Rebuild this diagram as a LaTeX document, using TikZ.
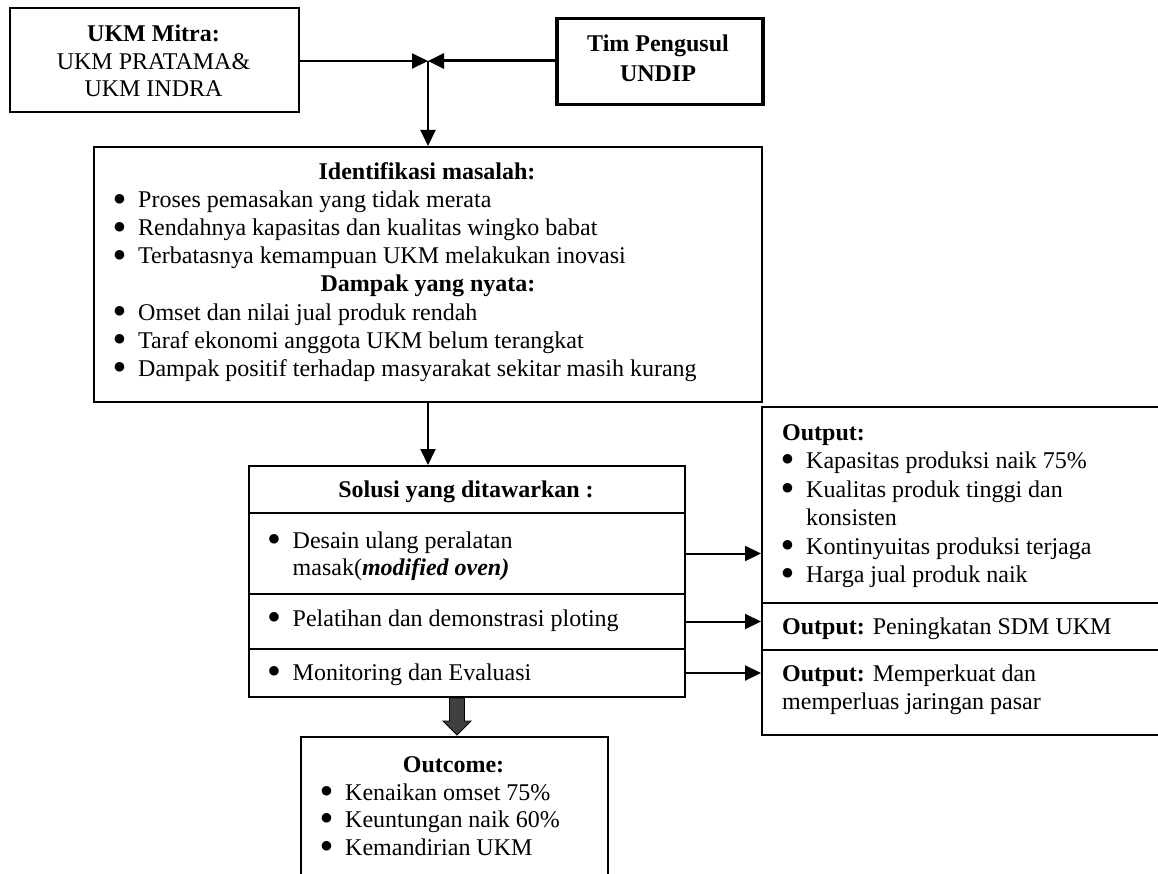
\documentclass[tikz,border=0pt]{standalone}
\usepackage{fontspec}
\setmainfont{Liberation Serif}
\newfontfamily\symfont{DejaVu Sans}
\usetikzlibrary{arrows.meta,calc}
\newcommand\fsz{\fontsize{24}{28}\selectfont}
\newcommand\bul{\llap{\raisebox{5.5pt}{\symfont\fontsize{12.5}{12.5}\selectfont ●}\hspace{13.2pt}}}
\tikzset{
  box/.style={draw, line width=2pt, rectangle, anchor=north west, inner sep=0pt},
  tl/.style={anchor=base west, inner sep=0pt, font=\fsz},
  tc/.style={anchor=base, inner sep=0pt, font=\fsz},
  arr/.style={line width=2pt, -{Triangle[length=16pt,width=15pt]}},
  blockarrow/.style={fill=black!75, draw=black, line width=0.8pt},
}
\begin{document}
\begin{tikzpicture}[x=1pt,y=-1pt]
\useasboundingbox (0,0) rectangle (1158,874);
\clip (0,0) rectangle (1158,874);

% top boxes
\node[box, minimum width=289pt, minimum height=104pt] (mitra) at (9,7) {};
\node[tc] (m1) at (153.5,42) {\bfseries UKM Mitra:};
\node[tc] (m2) at (153.5,70) {UKM PRATAMA\&};
\node[tc] (m3) at (153.5,97) {UKM INDRA};

\node[box, line width=3.5pt, minimum width=206pt, minimum height=86pt] (tim) at (555,17) {};
\node[tc] (t1) at (658,52) {\bfseries Tim Pengusul};
\node[tc] (t2) at (658,82) {\bfseries UNDIP};

\coordinate (j) at (428,61);

% identification box
\node[box, minimum width=668pt, minimum height=255pt] (idb) at (93,146) {};
\node[tc] (i0) at (427,180) {\bfseries Identifikasi masalah:};
\node[tl] (i1) at (138,208) {\bul Proses pemasakan yang tidak merata};
\node[tl] (i2) at (138,236) {\bul Rendahnya kapasitas dan kualitas wingko babat};
\node[tl] (i3) at (138,264) {\bul Terbatasnya kemampuan UKM melakukan inovasi};
\node[tc] (i4) at (428,292) {\bfseries Dampak yang nyata:};
\node[tl] (i5) at (138,320) {\bul Omset dan nilai jual produk rendah};
\node[tl] (i6) at (138,348) {\bul Taraf ekonomi anggota UKM belum terangkat};
\node[tl] (i7) at (138,376) {\bul Dampak positif terhadap masyarakat sekitar masih kurang};

\draw[arr] (mitra.east |- j) -- (j);
\draw[arr, line width=3pt] (tim.west |- j) -- (j);
\draw[arr] (j) -- (j |- idb.north);

% solution box
\node[box, minimum width=436pt, minimum height=47pt] (sol0) at (248,465) {};
\node[box, minimum width=436pt, minimum height=81pt] (sol1) at (248,512) {};
\node[box, minimum width=436pt, minimum height=55pt] (sol2) at (248,593) {};
\node[box, minimum width=436pt, minimum height=48pt] (sol3) at (248,648) {};
\node[tc] (s0) at (466,497) {\bfseries Solusi yang ditawarkan :};
\node[tl] (s1) at (292.5,548) {\bul Desain ulang peralatan};
\node[tl] (s1b) at (292.5,575) {masak(\textbf{\textit{modified oven)}}};
\node[tl] (s2) at (292.5,626) {\bul Pelatihan dan demonstrasi ploting};
\node[tl] (s3) at (292.5,680) {\bul Monitoring dan Evaluasi};

\draw[arr] (j |- idb.south) -- (j |- sol0.north);

% output boxes
\node[box, minimum width=420pt, minimum height=196pt] (out1) at (761,406) {};
\node[box, minimum width=420pt, minimum height=47pt] (out2) at (761,602) {};
\node[box, minimum width=420pt, minimum height=85pt] (out3) at (761,649) {};
\node[tl] (o0) at (782,440) {\bfseries Output:};
\node[tl] (o1) at (806,468) {\bul Kapasitas produksi naik 75\%};
\node[tl] (o2) at (806,497) {\bul Kualitas produk tinggi dan};
\node[tl] (o2b) at (806,525) {konsisten};
\node[tl] (o3) at (806,554) {\bul Kontinyuitas produksi terjaga};
\node[tl] (o4) at (806,582) {\bul Harga jual produk naik};
\node[tl] (o5) at (782,634) {\textbf{Output:} Peningkatan SDM UKM};
\node[tl] (o6) at (782,681) {\textbf{Output:} Memperkuat dan};
\node[tl] (o6b) at (782,709) {memperluas jaringan pasar};

\draw[arr] (sol1.east) -- (sol1.east -| out1.west);
\draw[arr] (sol2.east) -- (sol2.east -| out2.west);
\draw[arr] (sol3.east) -- (sol3.east -| out3.west);

% outcome box
\node[box, minimum width=307pt, minimum height=200pt] (outc) at (300,736) {};
\node[tc] (c0) at (453.5,772) {\bfseries Outcome:};
\node[tl] (c1) at (345,800) {\bul Kenaikan omset 75\%};
\node[tl] (c2) at (345,827) {\bul Keuntungan naik 60\%};
\node[tl] (c3) at (345,855) {\bul Kemandirian UKM};

% block arrow
\coordinate (ba) at ($(sol3.south)+(-10,0)$);
\coordinate (bt) at ($(ba |- outc.north)+(0,-1)$);
\draw[blockarrow] ($(ba)+(-7.5,0)$) -- ($(bt)+(-7.5,-14)$) -- ($(bt)+(-14,-14)$) -- (bt)
  -- ($(bt)+(14,-14)$) -- ($(bt)+(7.5,-14)$) -- ($(ba)+(7.5,0)$) -- cycle;
\end{tikzpicture}
\end{document}
